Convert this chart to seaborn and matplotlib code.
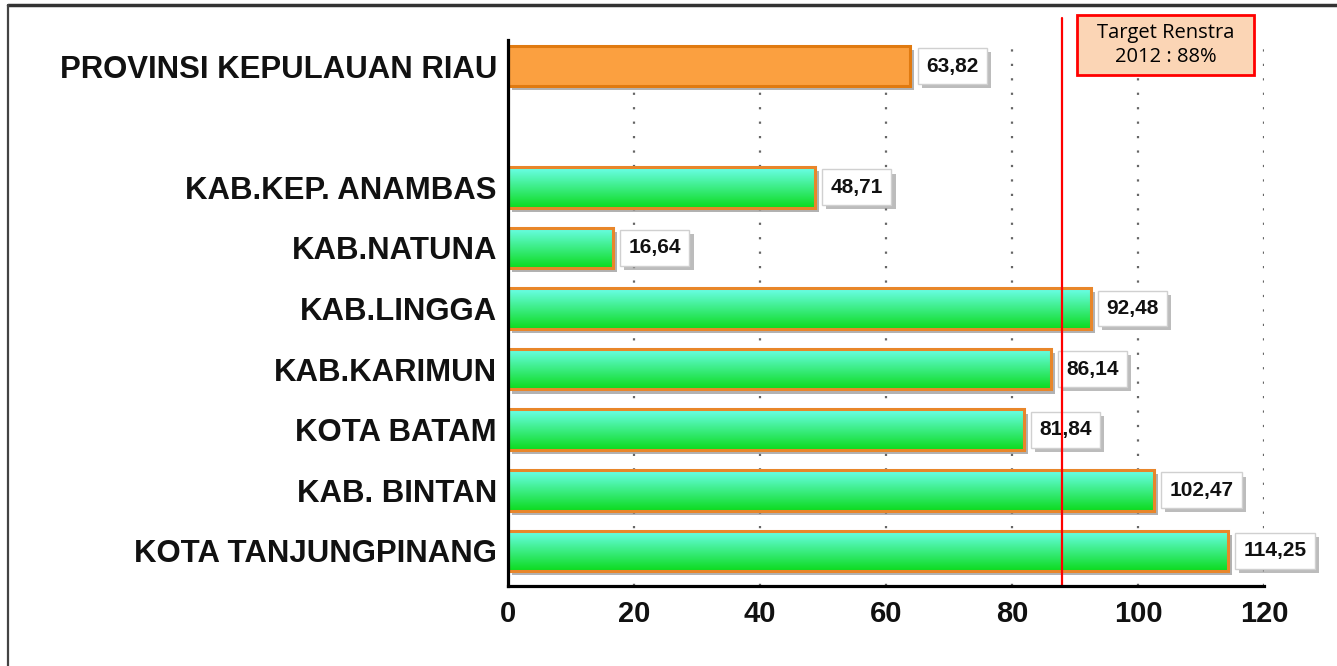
import numpy as np
import pandas as pd
import matplotlib
matplotlib.use('Agg')
import matplotlib.pyplot as plt
import matplotlib.patheffects as pe
from matplotlib.patches import Rectangle
from matplotlib.lines import Line2D
import seaborn as sns

# data
regions = ['PROVINSI KEPULAUAN RIAU', 'KAB.KEP. ANAMBAS', 'KAB.NATUNA', 'KAB.LINGGA',
           'KAB.KARIMUN', 'KOTA BATAM', 'KAB. BINTAN', 'KOTA TANJUNGPINANG']
values = [63.82, 48.71, 16.64, 92.48, 86.14, 81.84, 102.47, 114.25]
order = [regions[0], ''] + regions[1:]   # empty slot under the province bar
target = 88
target_text = 'Target Renstra\n2012 : 88%'
xticks = [0, 20, 40, 60, 80, 100, 120]

df = pd.DataFrame({'wilayah': regions, 'nilai': values})

sns.set_style('white')
plt.rcParams['font.family'] = ['Liberation Sans', 'DejaVu Sans']

fig = plt.figure(figsize=(13.37, 6.66), dpi=100)
ax = fig.add_axes([0.380, 0.120, 0.5654, 0.820])

sns.barplot(data=df, x='nilai', y='wilayah', order=order, orient='h',
            width=0.67, color='#22dd44', ax=ax, zorder=2)

# gradient fill + edge + shadow for every bar
shadow = [pe.SimplePatchShadow(offset=(3, -3), shadow_rgbFace='#808080', alpha=0.6), pe.Normal()]
top_c = np.array([0.42, 1.0, 0.92])
bot_c = np.array([0.05, 0.86, 0.12])
grad = np.linspace(0, 1, 64)[:, None, None] * (bot_c - top_c) + top_c

for p in list(ax.patches):
    x0, y0 = p.get_x(), p.get_y()
    w, h = p.get_width(), p.get_height()
    if w <= 0:
        continue
    p.set_path_effects(shadow)
    yc = y0 + h / 2
    if round(yc) == 0:
        p.set_facecolor('#fba040')
        p.set_edgecolor('#e07a10')
        p.set_linewidth(2.2)
    else:
        p.set_linewidth(0)
        im = ax.imshow(grad, extent=[x0, x0 + w, y0 + h, y0], origin='upper',
                       aspect='auto', zorder=2.5)
        im.set_clip_path(p)
        ax.add_patch(Rectangle((x0, y0), w, h, fill=False, ec='#e8862a', lw=2.2, zorder=3))
        ax.plot([x0, x0], [y0, y0 + h], color='#f0d020', lw=2.2, zorder=3.1,
                solid_capstyle='butt')

# value labels
for name, v in zip(regions, values):
    yi = order.index(name)
    t = ax.text(v + 2.5, yi, f'{v:.2f}'.replace('.', ','), ha='left', va='center',
                fontsize=15, fontweight='bold', color='#111111', zorder=4,
                bbox=dict(boxstyle='square,pad=0.4', fc='white', ec='#d0d0d0', lw=1))
    t.get_bbox_patch().set_path_effects(
        [pe.SimplePatchShadow(offset=(3, -3), shadow_rgbFace='#909090', alpha=0.6), pe.Normal()])

# target line
ax.plot([target, target], [8.58, -0.8], color='red', lw=1.6, zorder=5, clip_on=False)

ax.set_xlim(0, 120)
ax.set_ylim(8.58, -0.43)
ax.set_xticks(xticks)
ax.set_xticklabels([str(x) for x in xticks])
ax.set_xlabel('')
ax.set_ylabel('')

for x in xticks[1:]:
    ax.axvline(x, color='#666666', lw=1.6, linestyle=(0, (1, 5.5)), zorder=1)

for s in ['top', 'right']:
    ax.spines[s].set_visible(False)
for s in ['left', 'bottom']:
    ax.spines[s].set_linewidth(2.3)
    ax.spines[s].set_color('black')
    ax.spines[s].set_zorder(6)

ax.tick_params(axis='x', direction='out', length=7, width=2.2, color='black',
               labelsize=21, pad=3)
ax.tick_params(axis='y', length=0, labelsize=22.4, pad=8)
for lbl in ax.get_xticklabels() + ax.get_yticklabels():
    lbl.set_fontweight('bold')
    lbl.set_color('#111111')

# target annotation box
fig.add_artist(Rectangle((1077 / 1337, 1 - 75 / 666), 177 / 1337, 60 / 666,
                         transform=fig.transFigure, fc='#fbd5b5', ec='red', lw=2, zorder=7))
fig.text(1165.5 / 1337, 1 - 45 / 666, target_text, ha='center', va='center',
         fontsize=14.5, family=['Open Sans', 'DejaVu Sans'], color='black',
         linespacing=1.25, zorder=8)

# frame of the original picture
fig.add_artist(Line2D([8 / 1337, 1], [1 - 5 / 666, 1 - 5 / 666], transform=fig.transFigure,
                      color='#333333', lw=2.5))
fig.add_artist(Line2D([8 / 1337, 8 / 1337], [0, 1 - 5 / 666], transform=fig.transFigure,
                      color='#444444', lw=1.6))

fig.savefig('out.png', dpi=100, facecolor='white')
